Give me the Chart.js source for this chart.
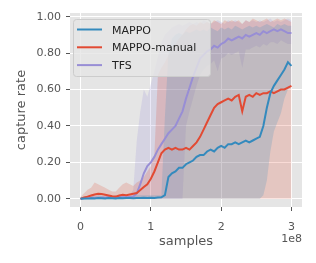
<!DOCTYPE html>
<html lang="en">

<head>
    <meta charset="UTF-8">
    <title>capture rate</title>
    <script src="https://cdn.jsdelivr.net/npm/chart.js"></script>
    <style>
        body { margin: 0; background: #ffffff; }
    </style>
</head>

<body>

    <canvas id="myChart" width="316" height="263"></canvas>

    <script>
        // datos (samples en unidades de 1e8)
        const samples = [0, 0.05, 0.1, 0.15, 0.2, 0.25, 0.3, 0.35, 0.4, 0.45, 0.5, 0.55, 0.6, 0.65, 0.7, 0.75,
            0.8, 0.85, 0.9, 0.95, 1.0, 1.05, 1.1, 1.15, 1.2, 1.25, 1.3, 1.35, 1.4, 1.45, 1.5, 1.55, 1.6, 1.65,
            1.7, 1.75, 1.8, 1.85, 1.9, 1.95, 2.0, 2.05, 2.1, 2.15, 2.2, 2.25, 2.3, 2.35, 2.4, 2.45, 2.5, 2.55,
            2.6, 2.65, 2.7, 2.75, 2.8, 2.85, 2.9, 2.95, 3.0];

        const mappo = [0.000, 0.002, 0.001, 0.003, 0.002, 0.004, 0.003, 0.002, 0.004, 0.003, 0.002, 0.004, 0.003,
            0.005, 0.004, 0.003, 0.005, 0.004, 0.006, 0.004, 0.006, 0.005, 0.007, 0.008, 0.02, 0.12, 0.14, 0.15,
            0.17, 0.17, 0.19, 0.20, 0.21, 0.23, 0.24, 0.24, 0.26, 0.27, 0.26, 0.28, 0.29, 0.28, 0.30, 0.30, 0.31,
            0.30, 0.31, 0.32, 0.31, 0.32, 0.33, 0.34, 0.40, 0.50, 0.58, 0.62, 0.65, 0.68, 0.71, 0.75, 0.73];
        const mappoLow = [0, 0, 0, 0, 0, 0, 0, 0, 0, 0, 0, 0, 0, 0, 0, 0, 0, 0, 0, 0, 0, 0, 0, 0, 0, 0, 0, 0, 0, 0,
            0, 0, 0, 0, 0, 0, 0, 0, 0, 0, 0, 0, 0, 0, 0, 0, 0, 0, 0, 0, 0, 0, 0.02, 0.10, 0.26, 0.37, 0.42, 0.47,
            0.55, 0.60, 0.62];
        const mappoHigh = [0.01, 0.01, 0.01, 0.02, 0.01, 0.02, 0.02, 0.01, 0.02, 0.01, 0.01, 0.02, 0.02, 0.02, 0.01,
            0.02, 0.02, 0.02, 0.02, 0.02, 0.02, 0.02, 0.02, 0.02, 0.45, 0.80, 0.88, 0.90, 0.91, 0.90, 0.92, 0.91,
            0.92, 0.93, 0.92, 0.93, 0.92, 0.94, 0.93, 0.92, 0.94, 0.93, 0.94, 0.93, 0.95, 0.94, 0.93, 0.94, 0.95,
            0.94, 0.95, 0.94, 0.95, 0.96, 0.95, 0.94, 0.96, 0.95, 0.96, 0.95, 0.95];

        const mappoManual = [0.000, 0.008, 0.012, 0.018, 0.024, 0.028, 0.026, 0.022, 0.018, 0.014, 0.012, 0.018,
            0.022, 0.020, 0.024, 0.028, 0.032, 0.048, 0.065, 0.08, 0.11, 0.15, 0.20, 0.25, 0.27, 0.28, 0.27, 0.28,
            0.27, 0.27, 0.28, 0.27, 0.29, 0.31, 0.34, 0.38, 0.42, 0.46, 0.50, 0.52, 0.53, 0.54, 0.55, 0.54, 0.56,
            0.57, 0.48, 0.56, 0.57, 0.56, 0.58, 0.57, 0.58, 0.58, 0.59, 0.58, 0.59, 0.60, 0.60, 0.61, 0.62];
        const mappoManualLow = [0, 0, 0, 0, 0, 0, 0, 0, 0, 0, 0, 0, 0, 0, 0, 0, 0, 0, 0, 0, 0, 0, 0, 0, 0, 0, 0,
            0, 0, 0, 0, 0, 0, 0, 0, 0, 0, 0, 0, 0, 0, 0, 0, 0, 0, 0, 0, 0, 0, 0, 0, 0, 0, 0, 0, 0, 0, 0, 0, 0, 0];
        const mappoManualHigh = [0.01, 0.03, 0.05, 0.06, 0.09, 0.08, 0.07, 0.06, 0.05, 0.04, 0.04, 0.06, 0.08, 0.09,
            0.08, 0.07, 0.09, 0.10, 0.12, 0.15, 0.18, 0.24, 0.68, 0.72, 0.75, 0.79, 0.82, 0.85, 0.88, 0.90, 0.93,
            0.95, 0.96, 0.95, 0.97, 0.96, 0.97, 0.96, 0.98, 0.97, 0.96, 0.98, 0.97, 0.98, 0.97, 0.98, 0.96, 0.98,
            0.97, 0.99, 0.98, 0.97, 0.98, 0.99, 0.97, 0.98, 0.99, 0.98, 0.99, 0.98, 0.97];

        const tfs = [0.000, 0.003, 0.004, 0.005, 0.006, 0.005, 0.007, 0.006, 0.008, 0.007, 0.006, 0.008, 0.009, 0.008,
            0.010, 0.012, 0.03, 0.08, 0.14, 0.18, 0.20, 0.23, 0.27, 0.30, 0.33, 0.36, 0.38, 0.40, 0.44, 0.48, 0.55,
            0.61, 0.67, 0.72, 0.77, 0.79, 0.81, 0.82, 0.84, 0.83, 0.85, 0.86, 0.88, 0.87, 0.88, 0.89, 0.88, 0.90,
            0.89, 0.90, 0.91, 0.90, 0.92, 0.91, 0.92, 0.93, 0.92, 0.93, 0.92, 0.91, 0.91];
        const tfsLow = [0, 0, 0, 0, 0, 0, 0, 0, 0, 0, 0, 0, 0, 0, 0, 0, 0, 0, 0, 0, 0, 0, 0, 0, 0, 0, 0, 0, 0, 0,
            0.40, 0.48, 0.55, 0.62, 0.68, 0.71, 0.73, 0.74, 0.76, 0.70, 0.77, 0.78, 0.80, 0.79, 0.80, 0.81, 0.72,
            0.82, 0.82, 0.83, 0.84, 0.83, 0.85, 0.84, 0.86, 0.86, 0.85, 0.87, 0.86, 0.85, 0.85];
        const tfsHigh = [0.01, 0.01, 0.02, 0.01, 0.02, 0.02, 0.01, 0.02, 0.02, 0.01, 0.02, 0.02, 0.02, 0.01, 0.02,
            0.05, 0.32, 0.48, 0.60, 0.56, 0.63, 0.70, 0.78, 0.86, 0.90, 0.92, 0.94, 0.95, 0.96, 0.95, 0.96, 0.97,
            0.96, 0.97, 0.96, 0.98, 0.97, 0.96, 0.97, 0.98, 0.97, 0.96, 0.98, 0.97, 0.98, 0.97, 0.96, 0.98, 0.97,
            0.98, 0.97, 0.98, 0.97, 0.98, 0.99, 0.97, 0.98, 0.97, 0.98, 0.99, 0.98];

        const xTicks = [0, 1, 2, 3];
        const yTicks = [0, 0.2, 0.4, 0.6, 0.8, 1.0];

        const azul = '#348ABD';
        const rojo = '#E24A33';
        const morado = '#988ED5';

        const ctx = document.getElementById('myChart');

        function puntos(valores) {
            return valores.map((v, i) => ({ x: samples[i], y: v }));
        }

        function linea(label, valores, color) {
            return {
                label: label,
                data: puntos(valores),
                borderColor: color,
                borderWidth: 2,
                pointRadius: 0,
                fill: false
            };
        }

        function banda(valores, color, target) {
            return {
                label: '',
                data: puntos(valores),
                borderWidth: 0,
                borderColor: 'rgba(0,0,0,0)',
                backgroundColor: color,
                pointRadius: 0,
                fill: target
            };
        }

        // fondo gris tipo ggplot
        const fondo = {
            id: 'fondo',
            beforeDraw(chart) {
                const { ctx, chartArea } = chart;
                ctx.save();
                ctx.fillStyle = '#E5E5E5';
                ctx.fillRect(chartArea.left, chartArea.top, chartArea.right - chartArea.left, chartArea.bottom - chartArea.top);
                ctx.restore();
            }
        };

        // leyenda dentro del area y el texto 1e8
        const leyenda = {
            id: 'leyenda',
            afterDraw(chart) {
                const { ctx, chartArea } = chart;
                ctx.save();
                ctx.fillStyle = 'rgba(229,229,229,0.8)';
                ctx.strokeStyle = '#CCCCCC';
                ctx.lineWidth = 1;
                ctx.beginPath();
                if (ctx.roundRect) {
                    ctx.roundRect(73.5, 19.5, 137, 57, 3);
                } else {
                    ctx.rect(73.5, 19.5, 137, 57);
                }
                ctx.fill();
                ctx.stroke();

                ctx.font = '11px "DejaVu Sans"';
                ctx.textBaseline = 'alphabetic';
                ctx.textAlign = 'left';
                for (let i = 0; i < 3; i++) {
                    const ds = chart.data.datasets[i];
                    const y = 29.5 + i * 17.8;
                    ctx.strokeStyle = ds.borderColor;
                    ctx.lineWidth = 2;
                    ctx.beginPath();
                    ctx.moveTo(77, y);
                    ctx.lineTo(102, y);
                    ctx.stroke();
                    ctx.fillStyle = '#222222';
                    ctx.fillText(ds.label, 112, y + 4);
                }

                ctx.fillStyle = '#555555';
                ctx.textAlign = 'right';
                ctx.fillText('1e8', chartArea.right, 242);
                ctx.restore();
            }
        };

        new Chart(ctx, {
            type: 'line',
            data: {
                datasets: [
                    linea('MAPPO', mappo, azul),
                    linea('MAPPO-manual', mappoManual, rojo),
                    linea('TFS', tfs, morado),
                    banda(mappoLow, 'rgba(0,0,0,0)', false),
                    banda(mappoHigh, 'rgba(52,138,189,0.2)', 3),
                    banda(mappoManualLow, 'rgba(0,0,0,0)', false),
                    banda(mappoManualHigh, 'rgba(226,74,51,0.2)', 5),
                    banda(tfsLow, 'rgba(0,0,0,0)', false),
                    banda(tfsHigh, 'rgba(152,142,213,0.2)', 7)
                ]
            },
            options: {
                responsive: false,
                animation: false,
                layout: { padding: { top: 13, right: 14, left: 0, bottom: 0 } },
                plugins: {
                    legend: { display: false },
                    tooltip: { enabled: false }
                },
                elements: { line: { tension: 0 } },
                scales: {
                    x: {
                        type: 'linear',
                        min: -0.15,
                        max: 3.15,
                        afterBuildTicks: (axis) => { axis.ticks = xTicks.map(v => ({ value: v })); },
                        afterFit: (axis) => { axis.height = 56; },
                        grid: { color: '#FFFFFF', lineWidth: 1, tickLength: 4, tickColor: '#555555' },
                        border: { display: false },
                        ticks: {
                            color: '#555555',
                            font: { family: 'DejaVu Sans', size: 11 },
                            padding: 10,
                            maxRotation: 0,
                            callback: (v) => String(v)
                        },
                        title: {
                            display: true,
                            text: 'samples',
                            color: '#555555',
                            font: { family: 'DejaVu Sans', size: 13 },
                            padding: { top: 0, bottom: 14 }
                        }
                    },
                    y: {
                        min: -0.045,
                        max: 1.02,
                        afterBuildTicks: (axis) => { axis.ticks = yTicks.map(v => ({ value: v })); },
                        afterFit: (axis) => { axis.width = 70; },
                        grid: { color: '#FFFFFF', lineWidth: 1, tickLength: 4, tickColor: '#555555' },
                        border: { display: false },
                        ticks: {
                            color: '#555555',
                            font: { family: 'DejaVu Sans', size: 11 },
                            padding: 5,
                            callback: (v) => v.toFixed(2)
                        },
                        title: {
                            display: true,
                            text: 'capture rate',
                            color: '#555555',
                            font: { family: 'DejaVu Sans', size: 13 },
                            padding: { top: 14, bottom: 0 }
                        }
                    }
                }
            },
            plugins: [fondo, leyenda]
        });
    </script>
</body>

</html>
